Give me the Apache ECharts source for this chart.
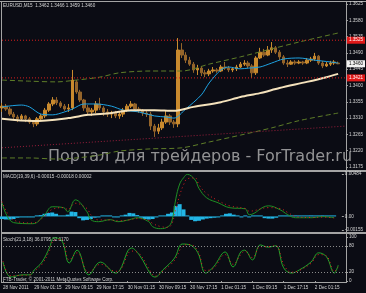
<!DOCTYPE html>
<html><head><meta charset="utf-8">
<script src="https://cdn.jsdelivr.net/npm/echarts@6/dist/echarts.min.js"></script>
<style>html,body{margin:0;padding:0;background:#0b0c14;}#c{width:366px;height:293px;}</style>
</head><body><div id="c"></div>
<script>
// ---------- data ----------
const symbolTitle = 'EURUSD,M15  1.3462 1.3466 1.3459 1.3460';
const macdTitle = 'MACD(19,39,6) -0.00015 -0.00018 0.00002';
const stochTitle = 'Stoch(21,3,18) 36.0795 32.1170';
const copyrightText = 'FTB-Trader, \u00a9 2001-2011 MetaQuotes Software Corp.';
const watermarkText = 'Портал для трейдеров - ForTrader.ru';

const barTimeLabels = ['28 Nov 2011','29 Nov 01:15','29 Nov 09:15','29 Nov 17:15','30 Nov 01:15','30 Nov 09:15','30 Nov 17:15','1 Dec 01:15','1 Dec 09:15','1 Dec 17:15','2 Dec 01:15'];
const barsPerLabel = 8;
const slotCount = 89;

// [open, close, low, high]
const candles = [
[1.3338,1.3343,1.3327,1.3352],[1.3343,1.3335,1.3330,1.3349],[1.3335,1.3321,1.3316,1.3341],[1.3321,1.3313,1.3305,1.3327],
[1.3313,1.3308,1.3299,1.3319],[1.3308,1.3316,1.3302,1.3321],[1.3316,1.3308,1.3299,1.3319],[1.3308,1.3299,1.3294,1.3313],
[1.3299,1.3294,1.3285,1.3305],[1.3294,1.3308,1.3288,1.3313],[1.3308,1.3316,1.3305,1.3321],[1.3316,1.3332,1.3310,1.3338],
[1.3332,1.3349,1.3327,1.3354],[1.3349,1.3360,1.3343,1.3368],[1.3360,1.3352,1.3346,1.3368],[1.3352,1.3343,1.3338,1.3357],
[1.3343,1.3335,1.3330,1.3349],[1.3335,1.3338,1.3327,1.3349],[1.3338,1.3415,1.3332,1.3443],[1.3410,1.3382,1.3377,1.3415],
[1.3382,1.3360,1.3354,1.3388],[1.3360,1.3338,1.3330,1.3363],[1.3338,1.3327,1.3321,1.3346],[1.3327,1.3332,1.3316,1.3338],
[1.3332,1.3349,1.3324,1.3357],[1.3349,1.3338,1.3332,1.3366],[1.3338,1.3327,1.3316,1.3343],[1.3327,1.3321,1.3313,1.3335],
[1.3321,1.3324,1.3310,1.3330],[1.3324,1.3316,1.3310,1.3330],[1.3316,1.3321,1.3308,1.3327],[1.3321,1.3332,1.3313,1.3338],
[1.3332,1.3343,1.3327,1.3349],[1.3343,1.3349,1.3338,1.3357],[1.3349,1.3335,1.3330,1.3352],[1.3335,1.3332,1.3324,1.3341],
[1.3332,1.3324,1.3316,1.3335],[1.3324,1.3321,1.3313,1.3330],[1.3321,1.3288,1.3277,1.3327],[1.3288,1.3274,1.3258,1.3294],
[1.3274,1.3283,1.3266,1.3294],[1.3283,1.3299,1.3277,1.3308],[1.3299,1.3316,1.3294,1.3332],[1.3316,1.3299,1.3291,1.3321],
[1.3299,1.3294,1.3283,1.3305],[1.3294,1.3498,1.3285,1.3531],[1.3498,1.3484,1.3476,1.3517],[1.3484,1.3470,1.3462,1.3492],
[1.3470,1.3459,1.3454,1.3479],[1.3459,1.3443,1.3435,1.3465],[1.3443,1.3448,1.3429,1.3457],[1.3448,1.3435,1.3426,1.3454],
[1.3435,1.3432,1.3423,1.3443],[1.3432,1.3440,1.3426,1.3446],[1.3440,1.3443,1.3435,1.3451],[1.3443,1.3440,1.3435,1.3448],
[1.3440,1.3451,1.3437,1.3457],[1.3451,1.3448,1.3443,1.3465],[1.3448,1.3443,1.3437,1.3454],[1.3443,1.3446,1.3437,1.3451],
[1.3446,1.3451,1.3440,1.3457],[1.3451,1.3459,1.3448,1.3465],[1.3459,1.3462,1.3454,1.3470],[1.3462,1.3454,1.3448,1.3468],
[1.3454,1.3435,1.3421,1.3459],[1.3435,1.3476,1.3429,1.3481],[1.3476,1.3492,1.3473,1.3504],[1.3492,1.3484,1.3479,1.3501],
[1.3484,1.3498,1.3481,1.3509],[1.3498,1.3504,1.3490,1.3520],[1.3504,1.3492,1.3487,1.3509],[1.3492,1.3479,1.3470,1.3498],
[1.3479,1.3462,1.3457,1.3484],[1.3462,1.3459,1.3451,1.3470],[1.3459,1.3465,1.3457,1.3470],[1.3465,1.3462,1.3457,1.3470],
[1.3462,1.3465,1.3459,1.3470],[1.3465,1.3462,1.3457,1.3468],[1.3462,1.3470,1.3459,1.3476],[1.3470,1.3473,1.3465,1.3479],
[1.3473,1.3481,1.3468,1.3490],[1.3481,1.3462,1.3457,1.3484],[1.3462,1.3454,1.3448,1.3468],[1.3454,1.3459,1.3451,1.3465],
[1.3459,1.3462,1.3454,1.3468],[1.3462,1.3465,1.3457,1.3470],[1.3462,1.3460,1.3459,1.3466]
];

const fastMA = [[0,1.3341],[5,1.3346],[7,1.3341],[10,1.3321],[13,1.3319],[16,1.3327],[18,1.3335],[21,1.3349],[24,1.3349],[28,1.3343],[31,1.3332],[35,1.3327],[39,1.3316],[42,1.3313],[44,1.3310],[47,1.3335],[51,1.3374],[53,1.3407],[56,1.3443],[58,1.3451],[61,1.3446],[63,1.3448],[66,1.3451],[69,1.3462],[72,1.3473],[76,1.3476],[80,1.3470],[84,1.3465],[86,1.3462]];
const slowMA = [[0,1.3308],[8,1.3302],[17,1.3310],[22,1.3319],[28,1.3324],[33,1.3332],[39,1.3332],[44,1.3330],[49,1.3341],[56,1.3354],[61,1.3368],[66,1.3379],[71,1.3393],[78,1.3410],[83,1.3423],[86,1.3432]];
const envUpper = [[0,1.3415],[7,1.3412],[14,1.3410],[19,1.3415],[25,1.3423],[30,1.3435],[38,1.3440],[46,1.3440],[53,1.3459],[61,1.3479],[69,1.3501],[76,1.3520],[86,1.3545]];
const envLower = [[0,1.3200],[7,1.3200],[14,1.3197],[19,1.3200],[25,1.3208],[30,1.3219],[38,1.3225],[46,1.3228],[53,1.3244],[61,1.3263],[69,1.3283],[76,1.3303],[86,1.3324]];
const trendLine = [[0,1.3228],[88,1.3288]];
const priceLevels = [1.3525, 1.3421];
const priceMin = 1.3175, priceMax = 1.3625, priceStep = 0.0045;

const macdHist = [-0.00030,-0.00035,-0.00035,-0.00030,-0.00015,-0.00010,-0.00010,-0.00008,-0.00005,0.00005,
0.00015,0.00030,0.00040,0.00045,0.00030,0.00010,0.00008,0.00020,0.00055,0.00050,
-0.00020,-0.00045,-0.00040,-0.00030,-0.00015,-0.00010,0.00005,0.00010,0.00005,-0.00010,
-0.00012,0.00005,0.00020,0.00040,0.00035,0.00015,-0.00015,-0.00030,-0.00035,-0.00030,
-0.00010,0.00000,0.00010,0.00030,0.00045,0.00120,0.00140,0.00080,0.00010,-0.00040,
-0.00055,-0.00050,-0.00035,-0.00025,-0.00020,-0.00015,-0.00010,0.00010,0.00030,0.00035,
0.00020,0.00005,-0.00005,0.00005,-0.00010,0.00005,0.00010,0.00005,-0.00020,-0.00025,
-0.00025,-0.00015,0.00005,0.00010,0.00008,0.00010,0.00012,0.00010,0.00008,0.00010,
0.00012,0.00008,0.00010,0.00012,0.00008,0.00005,0.00002];
const macdMain = [[0,0.00155],[3,-0.00071],[8,-0.00083],[11,0.00019],[13,0.00110],[16,0.00099],[17,0.00053],[19,0.00189],[22,0.00053],[23,-0.00037],[25,-0.00060],[28,-0.00037],[30,-0.00060],[33,-0.00037],[35,-0.00015],[38,-0.00060],[39,-0.00117],[41,-0.00140],[43,-0.00117],[44,-0.00050],[45,0.00200],[46,0.00370],[47,0.00440],[48,0.00480],[50,0.00416],[51,0.00320],[53,0.00212],[56,0.00155],[59,0.00099],[63,0.00087],[64,0.00019],[69,0.00121],[72,0.00076],[74,0.00019],[76,-0.00015],[80,-0.00015],[83,-0.00003],[86,-0.00015]];
const macdSignal = [[0,0.00170],[3,-0.00040],[8,-0.00075],[11,0.00000],[13,0.00080],[16,0.00100],[17,0.00080],[19,0.00150],[22,0.00090],[23,0.00020],[25,-0.00040],[28,-0.00040],[30,-0.00050],[33,-0.00040],[35,-0.00025],[38,-0.00045],[39,-0.00080],[41,-0.00115],[43,-0.00125],[44,-0.00080],[45,0.00080],[46,0.00240],[47,0.00360],[48,0.00430],[50,0.00440],[51,0.00360],[53,0.00260],[56,0.00180],[59,0.00120],[63,0.00090],[64,0.00060],[69,0.00100],[72,0.00090],[74,0.00045],[76,0.00000],[80,-0.00012],[83,-0.00008],[86,-0.00018]];
const macdTicks = [-0.00155, 0, 0.00484];

const stochMain = [[0,43],[2,9],[5,14],[7,14],[8,25],[10,43],[12,77],[13,98],[15,93],[17,41],[19,70],[22,14],[25,43],[29,18],[30,25],[33,75],[35,59],[38,14],[39,9],[41,25],[44,52],[46,84],[48,82],[50,64],[52,18],[54,32],[57,66],[59,32],[61,66],[62,70],[64,48],[66,82],[68,77],[70,80],[72,30],[74,18],[76,25],[79,43],[81,64],[83,55],[85,18],[86,36]];
const stochSignal = [[0,45],[2,12],[5,13],[7,14],[8,22],[10,38],[12,70],[13,92],[15,95],[17,48],[19,64],[22,20],[25,38],[29,22],[30,24],[33,68],[35,62],[38,20],[39,11],[41,22],[44,47],[46,78],[48,83],[50,68],[52,24],[54,29],[57,60],[59,38],[61,60],[62,68],[64,53],[66,78],[68,78],[70,80],[72,38],[74,20],[76,24],[79,40],[81,60],[83,57],[85,22],[86,32]];
const stochLevels = [20, 80];
const stochTicks = [0, 20, 80, 100];

// ---------- chart ----------
const FONT = 'Liberation Sans';
const FS = 4.6;
const TXT = '#d4d4d4';
const FRAME = '#a4a4a4';
const slots = Array.from({length: slotCount}, (_, i) => String(i));
const lastIdx = candles.length - 1;
const lastClose = candles[lastIdx][1];

const chart = echarts.init(document.getElementById('c'), null, {renderer: 'canvas'});

function levelSeries(from, v, lineColor, visible, bg, fg) {
  return {type: 'line', xAxisIndex: 0, yAxisIndex: 0, data: [[from, v], [slotCount - 1, v]],
    symbol: 'none', silent: true, z: 4,
    lineStyle: {color: lineColor, width: 1, type: [1, 2], opacity: visible ? 1 : 0},
    endLabel: {show: true, distance: 1, formatter: p => p.value[1].toFixed(4),
      backgroundColor: bg, color: fg, fontSize: FS, fontFamily: FONT, padding: [1, 2, 1, 2]}};
}
const yCommon = {
  position: 'right', splitLine: {show: false}, axisLine: {show: false},
  axisTick: {show: true, length: 2, lineStyle: {color: FRAME}}
};
const lbl = {fontSize: FS, fontFamily: FONT, color: TXT, margin: 3};

const option = {
  backgroundColor: '#0b0c14',
  animation: false,
  textStyle: {fontFamily: FONT},
  grid: [
    {left: 2, right: 20, top: 4, height: 163},
    {left: 2, right: 20, top: 174, height: 56},
    {left: 2, right: 20, top: 237, height: 44}
  ],
  xAxis: [0, 1, 2].map(g => ({
    type: 'category', gridIndex: g, data: slots, boundaryGap: false,
    axisLine: {show: false}, splitLine: {show: false},
    axisTick: g === 2 ? {show: true, interval: barsPerLabel - 1, length: 2, lineStyle: {color: FRAME}} : {show: false},
    axisLabel: g === 2 ? {show: true, interval: barsPerLabel - 1, align: 'left', fontSize: FS, fontFamily: FONT, color: TXT, margin: 4,
      formatter: (v, i) => barTimeLabels[i / barsPerLabel] || ''} : {show: false}
  })),
  yAxis: [
    Object.assign({type: 'value', gridIndex: 0, min: priceMin, max: priceMax, interval: priceStep,
      axisLabel: Object.assign({formatter: v => v.toFixed(4)}, lbl)}, yCommon),
    Object.assign({type: 'value', gridIndex: 1, min: macdTicks[0], max: macdTicks[2],
      axisLabel: Object.assign({customValues: macdTicks, formatter: v => v === 0 ? '0.00' : v.toFixed(5)}, lbl)},
      yCommon, {axisTick: {show: true, length: 2, customValues: macdTicks, lineStyle: {color: FRAME}}}),
    Object.assign({type: 'value', gridIndex: 2, min: 0, max: 100,
      axisLabel: Object.assign({customValues: stochTicks}, lbl)},
      yCommon, {axisTick: {show: true, length: 2, customValues: stochTicks, lineStyle: {color: FRAME}}})
  ],
  series: [
    {type: 'line', xAxisIndex: 0, yAxisIndex: 0, data: envUpper, symbol: 'none', silent: true, smooth: 0.3,
      lineStyle: {color: '#5e7d28', width: 1, type: [5, 3]}},
    {type: 'line', xAxisIndex: 0, yAxisIndex: 0, data: envLower, symbol: 'none', silent: true, smooth: 0.3,
      lineStyle: {color: '#5e7d28', width: 1, type: [5, 3]}},
    {type: 'line', xAxisIndex: 0, yAxisIndex: 0, data: trendLine, symbol: 'none', silent: true,
      lineStyle: {color: '#9a1e3c', width: 1, type: [1, 2]}},
    {type: 'candlestick', xAxisIndex: 0, yAxisIndex: 0, data: candles, barWidth: 3, silent: true,
      itemStyle: {color: '#c98a2e', color0: '#94642a', borderColor: '#c98a2e', borderColor0: '#94642a', borderWidth: 1}},
    {type: 'line', xAxisIndex: 0, yAxisIndex: 0, data: fastMA, symbol: 'none', silent: true, smooth: 0.3,
      lineStyle: {color: '#1ea2e2', width: 1}},
    {type: 'line', xAxisIndex: 0, yAxisIndex: 0, data: slowMA, symbol: 'none', silent: true, smooth: 0.3,
      lineStyle: {color: '#f4e2bc', width: 2}},
    levelSeries(0, priceLevels[0], '#d81e1e', true, '#e01818', '#ffffff'),
    levelSeries(0, priceLevels[1], '#d81e1e', true, '#e01818', '#ffffff'),
    levelSeries(lastIdx, lastClose, '#ffffff', false, '#f2f2f2', '#000000'),

    {type: 'bar', xAxisIndex: 1, yAxisIndex: 1, data: macdHist, barWidth: 4, barMinHeight: 1, silent: true,
      itemStyle: {color: '#22b6e6'}},
    {type: 'line', xAxisIndex: 1, yAxisIndex: 1, data: macdMain, symbol: 'none', silent: true, smooth: 0.4,
      lineStyle: {color: '#1f8f24', width: 1}},
    {type: 'line', xAxisIndex: 1, yAxisIndex: 1, data: macdSignal, symbol: 'none', silent: true, smooth: 0.4,
      lineStyle: {color: '#e02020', width: 1, type: [1, 3]}},

    {type: 'line', xAxisIndex: 2, yAxisIndex: 2, data: stochMain, symbol: 'none', silent: true, smooth: 0.4,
      lineStyle: {color: '#22a42a', width: 1},
      markLine: {silent: true, symbol: ['none', 'none'], animation: false, label: {show: false},
        lineStyle: {color: '#8a8a8a', type: [1, 2], width: 1},
        data: stochLevels.map(v => ({yAxis: v}))}},
    {type: 'line', xAxisIndex: 2, yAxisIndex: 2, data: stochSignal, symbol: 'none', silent: true, smooth: 0.4,
      lineStyle: {color: '#e02020', width: 1, type: [1, 3]}}
  ],
  graphic: [
    {type: 'text', x: 48, y: 157, z: 1, silent: true,
      style: {text: watermarkText, font: '16px "DejaVu Sans"', fill: 'rgba(170,170,170,0.85)',
        textAlign: 'left', textVerticalAlign: 'middle', align: 'left', verticalAlign: 'middle'}},
    {type: 'line', silent: true, shape: {x1: 0, y1: 1.5, x2: 366, y2: 1.5}, style: {stroke: FRAME, lineWidth: 1}},
    {type: 'line', silent: true, shape: {x1: 1.5, y1: 1, x2: 1.5, y2: 283}, style: {stroke: FRAME, lineWidth: 1}},
    {type: 'line', silent: true, shape: {x1: 346.5, y1: 1, x2: 346.5, y2: 283}, style: {stroke: FRAME, lineWidth: 1}},
    {type: 'line', silent: true, shape: {x1: 1, y1: 171, x2: 366, y2: 171}, style: {stroke: FRAME, lineWidth: 2}},
    {type: 'line', silent: true, shape: {x1: 1, y1: 233, x2: 366, y2: 233}, style: {stroke: FRAME, lineWidth: 2}},
    {type: 'line', silent: true, shape: {x1: 1, y1: 282.5, x2: 346.5, y2: 282.5}, style: {stroke: FRAME, lineWidth: 1}},
    {type: 'text', x: 3, y: 5.5, silent: true, style: {text: symbolTitle, font: FS + 'px "' + FONT + '"', fill: TXT, textVerticalAlign: 'middle', verticalAlign: 'middle'}},
    {type: 'text', x: 3, y: 176.5, silent: true, style: {text: macdTitle, font: FS + 'px "' + FONT + '"', fill: TXT, textVerticalAlign: 'middle', verticalAlign: 'middle'}},
    {type: 'text', x: 3, y: 239.5, silent: true, style: {text: stochTitle, font: FS + 'px "' + FONT + '"', fill: TXT, textVerticalAlign: 'middle', verticalAlign: 'middle'}},
    {type: 'text', x: 3, y: 279.5, silent: true, style: {text: copyrightText, font: FS + 'px "' + FONT + '"', fill: TXT, textVerticalAlign: 'middle', verticalAlign: 'middle'}}
  ]
};
chart.setOption(option);
</script>
</body></html>
